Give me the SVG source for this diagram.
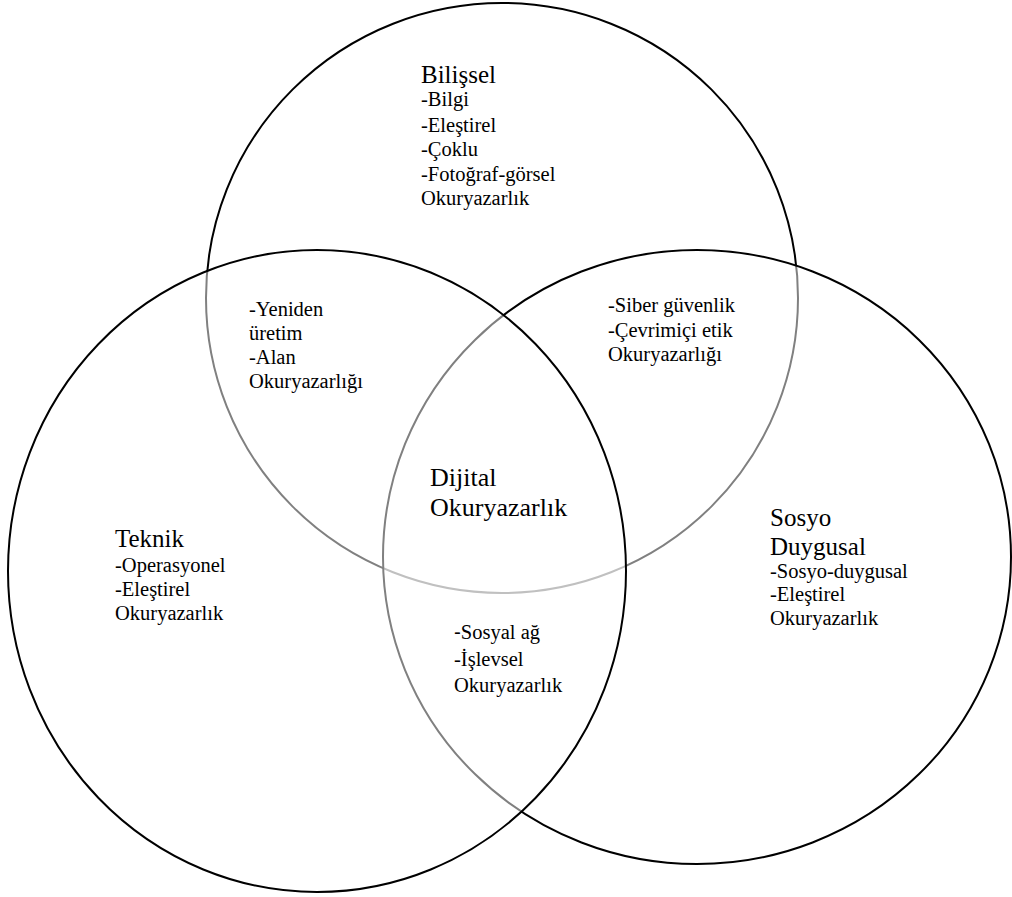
<svg xmlns="http://www.w3.org/2000/svg" width="1012" height="897" viewBox="0 0 1012 897">
<style>
.c{fill:#fff;fill-opacity:0.5;stroke:#000;stroke-width:2}
text{font-family:"Liberation Serif","Times New Roman",serif;fill:#000}
.t{font-size:25px}
.i{font-size:20.5px}
.d{font-size:26px}
</style>
<rect width="1012" height="897" fill="#fff"/>
<g id="circles">
<ellipse id="circle-bilissel" class="c" cx="502" cy="298" rx="296" ry="295"/>
<ellipse id="circle-sosyo" class="c" cx="697" cy="557" rx="314" ry="307"/>
<ellipse id="circle-teknik" class="c" cx="317" cy="571" rx="309" ry="321"/>
</g>
<g id="bilissel">
<text class="t" x="421" y="83">Bilişsel</text>
<text class="i" x="421" y="106">-Bilgi</text>
<text class="i" x="421" y="132">-Eleştirel</text>
<text class="i" x="421" y="156">-Çoklu</text>
<text class="i" x="421" y="181">-Fotoğraf-görsel</text>
<text class="i" x="421" y="205">Okuryazarlık</text>
</g>
<g id="bilissel-teknik">
<text class="i" x="249" y="316">-Yeniden</text>
<text class="i" x="249" y="340">üretim</text>
<text class="i" x="249" y="364">-Alan</text>
<text class="i" x="249" y="388">Okuryazarlığı</text>
</g>
<g id="bilissel-sosyo">
<text class="i" x="608" y="312">-Siber güvenlik</text>
<text class="i" x="608" y="337">-Çevrimiçi etik</text>
<text class="i" x="608" y="361">Okuryazarlığı</text>
</g>
<g id="dijital">
<text class="d" x="430" y="486">Dijital</text>
<text class="d" x="430" y="516">Okuryazarlık</text>
</g>
<g id="teknik">
<text class="t" x="115" y="547">Teknik</text>
<text class="i" x="115" y="572">-Operasyonel</text>
<text class="i" x="115" y="596">-Eleştirel</text>
<text class="i" x="115" y="620">Okuryazarlık</text>
</g>
<g id="sosyo">
<text class="t" x="770" y="526">Sosyo</text>
<text class="t" x="770" y="555">Duygusal</text>
<text class="i" x="770" y="578">-Sosyo-duygusal</text>
<text class="i" x="770" y="601">-Eleştirel</text>
<text class="i" x="770" y="625">Okuryazarlık</text>
</g>
<g id="teknik-sosyo">
<text class="i" x="454" y="639"><tspan font-family="Liberation Sans, sans-serif">-</tspan>Sosyal ağ</text>
<text class="i" x="454" y="666">-İşlevsel</text>
<text class="i" x="454" y="692">Okuryazarlık</text>
</g>
</svg>
